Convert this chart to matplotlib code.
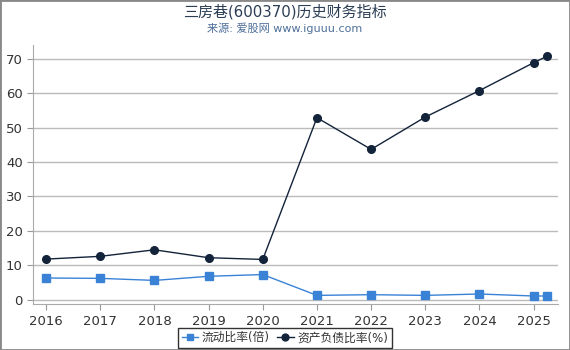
import matplotlib
matplotlib.use('Agg')
import matplotlib.pyplot as plt
from matplotlib.patches import Rectangle

plt.rcParams['font.family'] = ['DejaVu Sans', 'Noto Sans CJK SC']

# donnees
years = [2016, 2017, 2018, 2019, 2020, 2021, 2022, 2023, 2024, 2025, 2025.25]
current_ratio = [6.3, 6.2, 5.6, 6.8, 7.3, 1.25, 1.45, 1.25, 1.65, 1.07, 1.07]
debt_ratio = [11.8, 12.6, 14.5, 12.2, 11.7, 52.9, 43.7, 53.1, 60.8, 68.9, 70.8]
tick_years = [2016, 2017, 2018, 2019, 2020, 2021, 2022, 2023, 2024, 2025]
title = '三房巷(600370)历史财务指标'
subtitle = '来源: 爱股网 www.iguuu.com'


def main():
    fig = plt.figure(figsize=(5.7, 3.5), dpi=100)
    ax = fig.add_axes([0.058, 0.131, 0.921, 0.74])

    ax.plot(years, current_ratio, color='#3a82d6', marker='s', markersize=5.5,
            linewidth=1, label='流动比率(倍)')
    ax.plot(years, debt_ratio, color='#13233a', marker='o', markersize=5.5,
            linewidth=1, label='资产负债比率(%)')

    ax.set_xlim(2015.76, 2025.45)
    ax.set_ylim(-1.3, 74)
    ax.set_xticks(tick_years)
    ax.set_yticks(range(0, 80, 10))
    ax.tick_params(colors='#333333', labelsize=9.5, length=4, color='#999999')
    ax.grid(True, axis='y', color='#bbbbbb', linewidth=1)
    ax.set_axisbelow(True)
    for s in ['top', 'right']:
        ax.spines[s].set_visible(False)
    for s in ['left', 'bottom']:
        ax.spines[s].set_color('#aaaaaa')

    fig.text(0.5, 0.967, title, ha='center', va='center', fontsize=10.8,
             color='#2b3e55')
    fig.text(0.5, 0.918, subtitle, ha='center', va='center', fontsize=8,
             color='#4f6f99')

    leg = fig.legend(loc='center', bbox_to_anchor=(0.5, 0.035), ncol=2,
                     fontsize=8.5, frameon=True, fancybox=False,
                     handlelength=1.4, handletextpad=0.3, columnspacing=0.6,
                     borderpad=0.3, markerscale=0.9)
    leg.get_frame().set_edgecolor('black')
    leg.get_frame().set_linewidth(1)
    for t in leg.get_texts():
        t.set_color('#333333')

    fig.patches.append(Rectangle((0, 0), 1, 1, transform=fig.transFigure,
                                 fill=False, edgecolor='#888888', linewidth=2))

    fig.savefig('out.png', dpi=100)


if __name__ == '__main__':
    main()
